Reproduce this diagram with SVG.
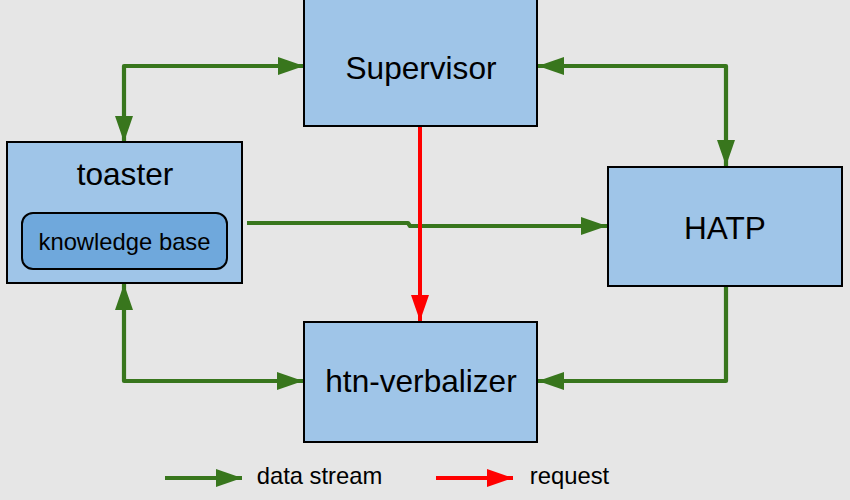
<svg xmlns="http://www.w3.org/2000/svg" width="850" height="500" viewBox="0 0 850 500">
<defs>
<style>
.box{fill:#9fc5e8;stroke:#000;stroke-width:2}
.kb{fill:#6fa8dc;stroke:#000;stroke-width:2}
.t{font-family:"Liberation Sans",Arial,sans-serif;fill:#000;text-anchor:middle}
.big{font-size:31.6px}
.small{font-size:23.8px}
.g{fill:none;stroke:#38761d;stroke-width:4.2;stroke-linejoin:round}
.r{fill:none;stroke:#ff0000;stroke-width:4}
</style>
<marker id="ag" markerUnits="userSpaceOnUse" markerWidth="26" markerHeight="18" viewBox="0 0 26 18" refX="26" refY="9" orient="auto-start-reverse">
<path d="M0,0 L26,9 L0,18 Z" fill="#38761d"/>
</marker>
<marker id="ar" markerUnits="userSpaceOnUse" markerWidth="26" markerHeight="18" viewBox="0 0 26 18" refX="26" refY="9" orient="auto">
<path d="M0,0 L26,9 L0,18 Z" fill="#ff0000"/>
</marker>
</defs>
<rect width="850" height="500" fill="#e6e6e6"/>
<g id="connectors">
<path class="g" d="M304,66 H124 V142" marker-start="url(#ag)" marker-end="url(#ag)"/>
<path class="g" d="M538,66 H726 V166" marker-start="url(#ag)" marker-end="url(#ag)"/>
<path class="g" d="M247,223 H408 L410,226 H607" marker-end="url(#ag)"/>
<path class="g" d="M124,284 V381 H303" marker-start="url(#ag)" marker-end="url(#ag)"/>
<path class="g" d="M726,287 V381 H538" marker-end="url(#ag)"/>
<path class="r" d="M420,127 V321" marker-end="url(#ar)"/>
</g>
<g id="supervisor">
<rect class="box" x="304" y="-2" width="233" height="128"/>
<text class="t big" x="421" y="79">Supervisor</text>
</g>
<g id="toaster">
<rect class="box" x="7" y="142" width="235" height="141"/>
<text class="t big" x="125" y="185">toaster</text>
<g id="knowledge-base">
<rect class="kb" x="22" y="213" width="205" height="56" rx="11"/>
<text class="t small" x="124.500" y="250">knowledge base</text>
</g>
</g>
<g id="hatp">
<rect class="box" x="608" y="167" width="234" height="119"/>
<text class="t big" x="725" y="239">HATP</text>
</g>
<g id="htn-verbalizer">
<rect class="box" x="304" y="322" width="233" height="120"/>
<text class="t big" x="421" y="392">htn-verbalizer</text>
</g>
<g id="legend">
<path class="g" d="M165,478 H242" marker-end="url(#ag)"/>
<text class="t small" x="319.500" y="484">data stream</text>
<path class="r" d="M436,478 H513" marker-end="url(#ar)"/>
<text class="t small" x="569.500" y="484">request</text>
</g>
</svg>
